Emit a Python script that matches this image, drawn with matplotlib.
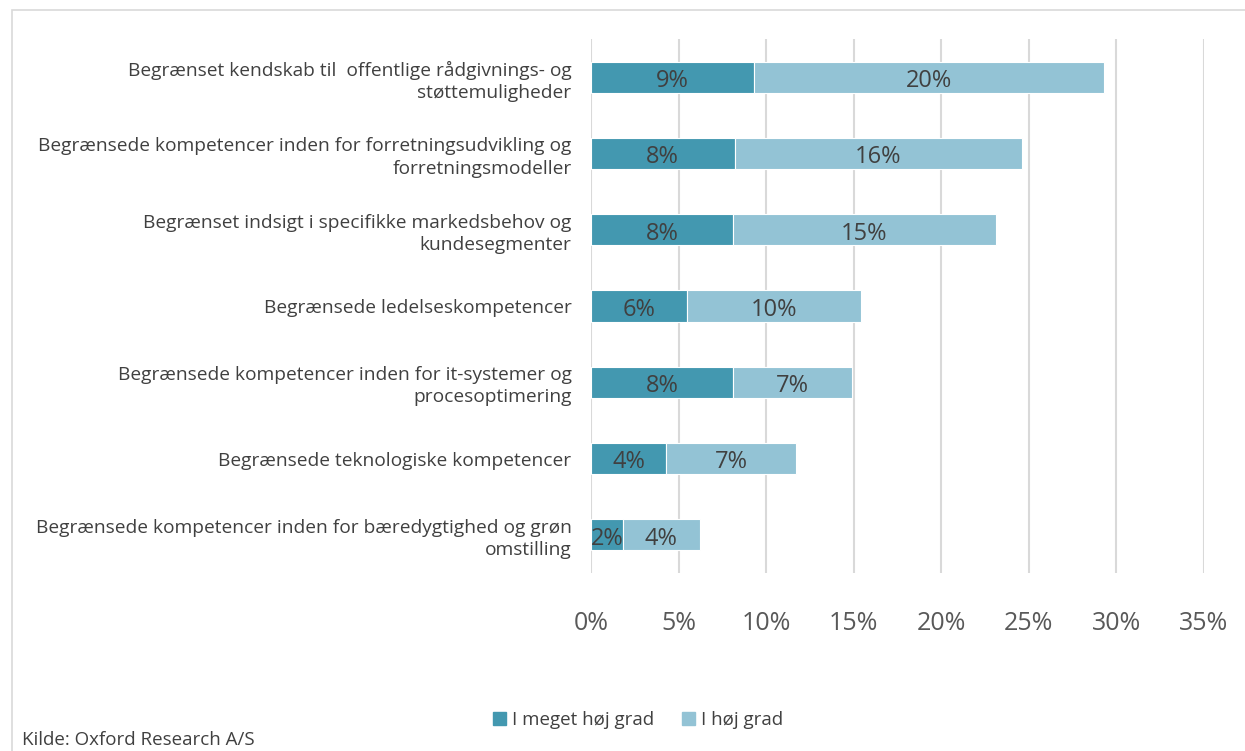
import matplotlib

matplotlib.use("Agg")

import matplotlib.pyplot as plt
from matplotlib.patches import Rectangle

# Categories top to bottom
categories = [
    "Begrænset kendskab til  offentlige rådgivnings- og\nstøttemuligheder",
    "Begrænsede kompetencer inden for forretningsudvikling og\nforretningsmodeller",
    "Begrænset indsigt i specifikke markedsbehov og\nkundesegmenter",
    "Begrænsede ledelseskompetencer",
    "Begrænsede kompetencer inden for it-systemer og\nprocesoptimering",
    "Begrænsede teknologiske kompetencer",
    "Begrænsede kompetencer inden for bæredygtighed og grøn\nomstilling",
]
meget_hoej = [9.3, 8.2, 8.1, 5.5, 8.1, 4.3, 1.8]
hoej = [20.0, 16.4, 15.0, 9.9, 6.8, 7.4, 4.4]
meget_labels = ["9%", "8%", "8%", "6%", "8%", "4%", "2%"]
hoej_labels = ["20%", "16%", "15%", "10%", "7%", "7%", "4%"]
series_names = ["I meget høj grad", "I høj grad"]
x_ticks = [0, 5, 10, 15, 20, 25, 30, 35]

DARK = "#4398B0"
LIGHT = "#93C3D5"
TEXT = "#404040"
FONT = "Open Sans"

fig = plt.figure(figsize=(12.45, 7.51), dpi=100)
fig.patches.append(Rectangle((12 / 1245, -0.1), 1.2, 1 - 10 / 751 + 0.1,
                             transform=fig.transFigure, fill=False,
                             edgecolor="#d9d9d9", linewidth=1.2))

ax = fig.add_axes([591 / 1245, 178 / 751, 613 / 1245, 534 / 751])
y = list(range(len(categories)))
ax.barh(y, meget_hoej, height=0.41, color=DARK, edgecolor="white", linewidth=0.8, zorder=3)
ax.barh(y, hoej, left=meget_hoej, height=0.41, color=LIGHT, edgecolor="white",
        linewidth=0.8, zorder=3)

for i in y:
    ax.text(meget_hoej[i] / 2, i + 0.05, meget_labels[i], ha="center", va="center",
            fontsize=17, color=TEXT, family=FONT, zorder=4)
    ax.text(meget_hoej[i] + hoej[i] / 2, i + 0.05, hoej_labels[i], ha="center",
            va="center", fontsize=17, color=TEXT, family=FONT, zorder=4)

ax.set_ylim(len(categories) - 0.5, -0.5)
ax.set_xlim(0, 35)
ax.set_xticks(x_ticks)
ax.set_xticklabels([f"{t}%" for t in x_ticks], fontsize=18, color="#595959", family=FONT)
ax.set_yticks(y)
ax.set_yticklabels(categories, fontsize=13.8, color=TEXT, family=FONT, linespacing=1.3)
ax.tick_params(axis="x", length=0, pad=27)
ax.tick_params(axis="y", length=0, pad=14)
ax.grid(axis="x", color="#d9d9d9", linewidth=1.5, zorder=0)
for s in ax.spines.values():
    s.set_visible(False)

handles = [Rectangle((0, 0), 1, 1, color=DARK), Rectangle((0, 0), 1, 1, color=LIGHT)]
fig.legend(handles, series_names, loc="center", bbox_to_anchor=(638 / 1245, 1 - 720 / 751),
           ncol=2, frameon=False, prop={"family": FONT, "size": 13.5},
           labelcolor=TEXT, handlelength=0.7, handleheight=0.7, handletextpad=0.3,
           columnspacing=1.5)

fig.text(22 / 1245, 1 - 740 / 751, "Kilde: Oxford Research A/S", ha="left", va="center",
         fontsize=13.5, color=TEXT, family=FONT)

fig.savefig("out.png", dpi=100)
